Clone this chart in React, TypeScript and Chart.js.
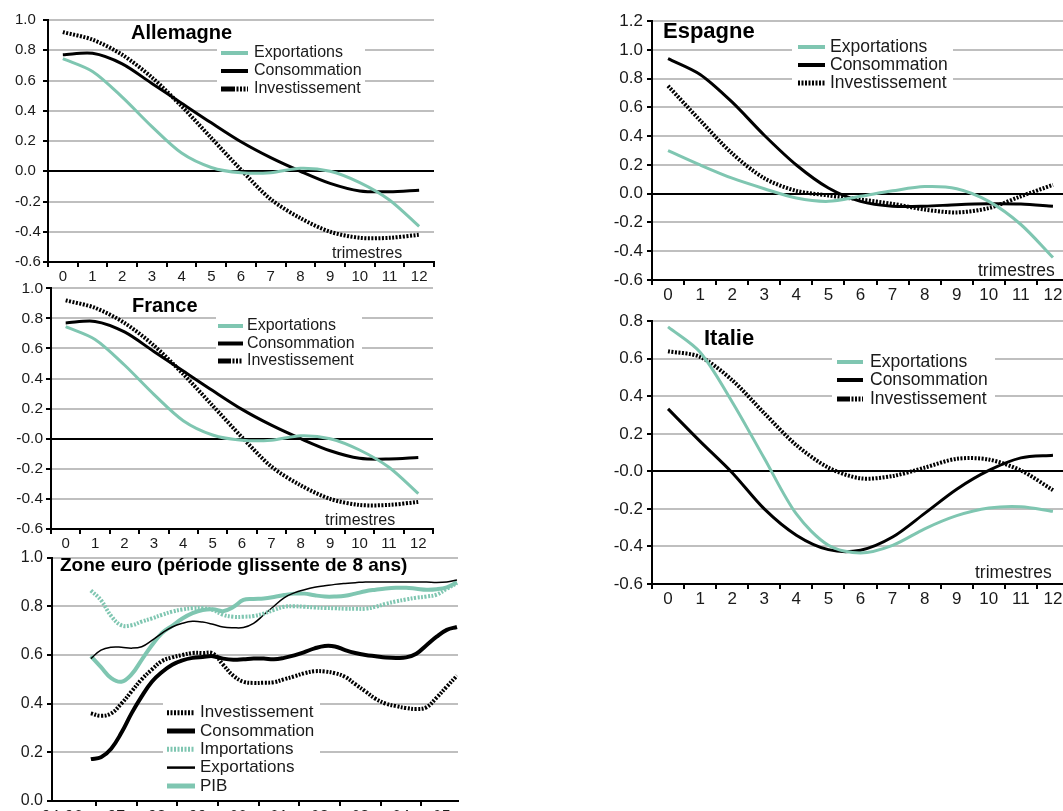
import React, { useEffect, useRef } from "react";
import { Chart, registerables } from "chart.js";

Chart.register(...registerables);

const FONT = "'Liberation Sans', Arial, Helvetica, sans-serif";
const TEAL = "#7fc6b1";
const GRID = "#bfbfbf";
const TEXT = "#1a1a1a";

// ---------- data ----------
const trimestres = ["0", "1", "2", "3", "4", "5", "6", "7", "8", "9", "10", "11", "12"];

const allemagneExportations = [0.745, 0.66, 0.49, 0.295, 0.12, 0.025, -0.01, -0.01, 0.02, 0.0, -0.075, -0.19, -0.365];
const allemagneConsommation = [0.77, 0.78, 0.71, 0.58, 0.45, 0.32, 0.195, 0.09, 0.0, -0.08, -0.13, -0.135, -0.125];
const allemagneInvestissement = [0.92, 0.87, 0.77, 0.62, 0.43, 0.22, 0.01, -0.185, -0.31, -0.4, -0.44, -0.44, -0.42];

const franceExportations = [0.745, 0.66, 0.49, 0.295, 0.12, 0.025, -0.01, -0.01, 0.02, 0.0, -0.075, -0.19, -0.365];
const franceConsommation = [0.77, 0.78, 0.71, 0.58, 0.45, 0.32, 0.195, 0.09, 0.0, -0.08, -0.13, -0.135, -0.125];
const franceInvestissement = [0.92, 0.87, 0.77, 0.62, 0.43, 0.22, 0.01, -0.185, -0.31, -0.4, -0.44, -0.44, -0.42];

const espagneExportations = [0.3, 0.2, 0.108, 0.035, -0.03, -0.053, -0.018, 0.02, 0.05, 0.035, -0.053, -0.214, -0.444];
const espagneConsommation = [0.94, 0.83, 0.637, 0.407, 0.2, 0.04, -0.053, -0.087, -0.087, -0.076, -0.07, -0.072, -0.087];
const espagneInvestissement = [0.75, 0.51, 0.28, 0.108, 0.02, -0.012, -0.04, -0.07, -0.11, -0.13, -0.1, -0.018, 0.062];

const italieExportations = [0.77, 0.635, 0.37, 0.07, -0.227, -0.394, -0.435, -0.394, -0.306, -0.236, -0.195, -0.188, -0.213];
const italieConsommation = [0.333, 0.16, -0.007, -0.2, -0.34, -0.417, -0.42, -0.35, -0.224, -0.095, 0.005, 0.072, 0.086];
const italieInvestissement = [0.64, 0.61, 0.486, 0.31, 0.14, 0.02, -0.037, -0.025, 0.02, 0.067, 0.063, 0.005, -0.1];

const zoneQuarters = [
  "1996T4",
  "1997T1", "1997T2", "1997T3", "1997T4",
  "1998T1", "1998T2", "1998T3", "1998T4",
  "1999T1", "1999T2", "1999T3", "1999T4",
  "2000T1", "2000T2", "2000T3", "2000T4",
  "2001T1", "2001T2", "2001T3", "2001T4",
  "2002T1", "2002T2", "2002T3", "2002T4",
  "2003T1", "2003T2", "2003T3", "2003T4",
  "2004T1", "2004T2", "2004T3", "2004T4",
  "2005T1", "2005T2", "2005T3", "2005T4",
];
const zoneInvestissement = [0.36, 0.35, 0.36, 0.4, 0.45, 0.5, 0.54, 0.575, 0.59, 0.6, 0.608, 0.608, 0.606, 0.56, 0.515, 0.49, 0.485, 0.486, 0.488, 0.5, 0.512, 0.525, 0.533, 0.532, 0.525, 0.51, 0.48, 0.45, 0.42, 0.4, 0.39, 0.382, 0.378, 0.385, 0.425, 0.47, 0.515];
const zoneConsommation = [0.172, 0.18, 0.215, 0.28, 0.36, 0.43, 0.49, 0.53, 0.56, 0.578, 0.588, 0.592, 0.595, 0.585, 0.58, 0.582, 0.585, 0.585, 0.582, 0.588, 0.598, 0.612, 0.627, 0.637, 0.635, 0.62, 0.608, 0.6, 0.595, 0.59, 0.588, 0.59, 0.605, 0.64, 0.675, 0.703, 0.715];
const zoneImportations = [0.865, 0.825, 0.76, 0.722, 0.722, 0.737, 0.75, 0.765, 0.778, 0.787, 0.792, 0.792, 0.785, 0.765, 0.757, 0.757, 0.76, 0.77, 0.785, 0.798, 0.8, 0.798, 0.795, 0.793, 0.792, 0.79, 0.79, 0.79, 0.798, 0.81, 0.82, 0.828, 0.835, 0.84, 0.848, 0.872, 0.895];
const zoneExportations = [0.585, 0.62, 0.632, 0.632, 0.628, 0.634, 0.66, 0.69, 0.715, 0.73, 0.738, 0.735, 0.726, 0.715, 0.712, 0.713, 0.73, 0.765, 0.8, 0.835, 0.855, 0.868, 0.878, 0.884, 0.89, 0.894, 0.897, 0.9, 0.9, 0.9, 0.9, 0.9, 0.9, 0.9, 0.898, 0.9, 0.908];
const zonePIB = [0.595, 0.55, 0.505, 0.49, 0.52, 0.58, 0.64, 0.69, 0.72, 0.75, 0.772, 0.785, 0.788, 0.78, 0.797, 0.826, 0.83, 0.832, 0.838, 0.846, 0.852, 0.852, 0.845, 0.84, 0.84, 0.843, 0.852, 0.862, 0.868, 0.873, 0.876, 0.876, 0.872, 0.868, 0.87, 0.878, 0.898];

const zoneYearBounds = [1997, 1998, 1999, 2000, 2001, 2002, 2003, 2004, 2005];
const zoneYearLabels = ["94-96", "97", "98", "99", "00", "01", "02", "03", "04", "05"];
const zoneLabelPos = [1996.17, 1997.5, 1998.5, 1999.5, 2000.5, 2001.5, 2002.5, 2003.5, 2004.5, 2005.5];

// ---------- helpers ----------
type SampleKind = "solid" | "dotted" | "dashdot";
type Series = { label: string; data: number[]; color: string; width: number; dash?: number[]; sample?: SampleKind };

const quarterPos = (q: string) => {
  const y = parseInt(q.slice(0, 4), 10);
  const t = parseInt(q.slice(5), 10);
  return y + (t - 0.5) / 4;
};

type Legend = {
  box: [number, number, number, number];
  sx: number;
  slen: number;
  tx: number;
  rows: number[];
  size: number;
};
type Label = { text: string; x: number; y: number; size: number; bold?: boolean };

type Panel = {
  id: string;
  cl: number;
  ct: number;
  yW: number;
  plotW: number;
  plotH: number;
  xH: number;
  padT: number;
  padR: number;
  yMin: number;
  yMax: number;
  yStep: number;
  yFont: number;
  yAlign: "near" | "far";
  yPad: number;
  zeroLabel: string;
  zeroLine: boolean;
  xFont: number;
  xPad: number;
  series: Series[];
  legend: Legend;
  labels: Label[];
  zone?: boolean;
};

function drawSample(ctx: CanvasRenderingContext2D, s: Series, x: number, y: number, len: number) {
  ctx.strokeStyle = s.color;
  ctx.lineWidth = s.width + 1;
  ctx.lineCap = "butt";
  const kind = s.sample || "solid";
  if (kind === "dashdot") {
    const solid = Math.round(len * 0.5);
    ctx.setLineDash([]);
    ctx.beginPath();
    ctx.moveTo(x, y);
    ctx.lineTo(x + solid, y);
    ctx.stroke();
    ctx.setLineDash(s.dash || [2, 1.5]);
    ctx.beginPath();
    ctx.moveTo(x + solid + 1.5, y);
    ctx.lineTo(x + len, y);
    ctx.stroke();
  } else {
    ctx.setLineDash(kind === "dotted" ? s.dash || [2, 1.5] : []);
    ctx.beginPath();
    ctx.moveTo(x, y);
    ctx.lineTo(x + len, y);
    ctx.stroke();
  }
  ctx.setLineDash([]);
}

function decorPlugin(p: Panel) {
  return {
    id: "decor_" + p.id,
    beforeDatasetsDraw(chart: any) {
      const ctx: CanvasRenderingContext2D = chart.ctx;
      ctx.save();
      const L = p.legend;
      ctx.fillStyle = "#ffffff";
      ctx.fillRect(L.box[0] - p.cl, L.box[1] - p.ct, L.box[2], L.box[3]);
      ctx.font = `${L.size}px ${FONT}`;
      ctx.textBaseline = "middle";
      ctx.textAlign = "left";
      p.series.forEach((s, i) => {
        const y = L.rows[i] - p.ct;
        drawSample(ctx, s, L.sx - p.cl, y, L.slen);
        ctx.fillStyle = TEXT;
        ctx.fillText(s.label, L.tx - p.cl, y);
      });
      p.labels.forEach((lb) => {
        ctx.font = `${lb.bold ? "bold " : ""}${lb.size}px ${FONT}`;
        ctx.fillStyle = lb.bold ? "#000" : TEXT;
        ctx.textBaseline = "middle";
        ctx.textAlign = "left";
        ctx.fillText(lb.text, lb.x - p.cl, lb.y - p.ct);
      });
      ctx.restore();
    },
  };
}

function buildConfig(p: Panel): any {
  const fmtY = (v: number) => (Math.abs(v) < 1e-9 ? p.zeroLabel : Number(v).toFixed(1));
  const datasets = p.series.map((s) => ({
    label: s.label,
    data: p.zone ? s.data.map((v, i) => ({ x: quarterPos(zoneQuarters[i]), y: v })) : s.data,
    borderColor: s.color,
    backgroundColor: s.color,
    borderWidth: s.width,
    borderDash: s.dash || [],
    borderCapStyle: "butt",
    pointRadius: 0,
    pointHoverRadius: 0,
    tension: p.zone ? 0.4 : 0.3,
    fill: false,
  }));

  const yScale = {
    type: "linear",
    min: p.yMin,
    max: p.yMax,
    ticks: {
      stepSize: p.yStep,
      font: { family: FONT, size: p.yFont },
      color: TEXT,
      padding: p.yPad,
      crossAlign: p.yAlign,
      callback: (v: any) => fmtY(v),
    },
    grid: {
      color: (c: any) => (p.zeroLine && c.tick && Math.abs(c.tick.value) < 1e-9 ? "#000" : GRID),
      lineWidth: 2,
      tickLength: 5,
      tickColor: "#000",
      drawTicks: true,
    },
    border: { color: "#000", width: 2 },
    afterFit: (s: any) => {
      s.width = p.yW;
    },
  };

  let xScale: any;
  if (p.zone) {
    const tickVals = [...zoneYearBounds, ...zoneLabelPos].sort((a, b) => a - b);
    xScale = {
      type: "linear",
      min: 1995.92,
      max: 2005.9,
      afterBuildTicks: (s: any) => {
        s.ticks = tickVals.map((v) => ({ value: v }));
      },
      ticks: {
        autoSkip: false,
        maxRotation: 0,
        font: { family: FONT, size: p.xFont },
        color: TEXT,
        padding: p.xPad,
        callback: (v: any) => {
          const idx = zoneLabelPos.indexOf(v);
          return idx >= 0 ? zoneYearLabels[idx] : "";
        },
      },
      grid: {
        drawOnChartArea: false,
        drawTicks: true,
        tickLength: 5,
        lineWidth: 2,
        color: (c: any) => (c.tick && zoneYearBounds.includes(c.tick.value) ? "#000" : "rgba(0,0,0,0)"),
        tickColor: (c: any) => (c.tick && zoneYearBounds.includes(c.tick.value) ? "#000" : "rgba(0,0,0,0)"),
      },
      border: { color: "#000", width: 2 },
      afterFit: (s: any) => {
        s.height = p.xH;
      },
    };
  } else {
    xScale = {
      type: "category",
      offset: true,
      ticks: {
        autoSkip: false,
        maxRotation: 0,
        font: { family: FONT, size: p.xFont },
        color: TEXT,
        padding: p.xPad,
      },
      grid: {
        offset: true,
        drawOnChartArea: false,
        drawTicks: true,
        tickLength: 5,
        lineWidth: 2,
        color: "#000",
        tickColor: "#000",
      },
      border: { color: "#000", width: 2 },
      afterFit: (s: any) => {
        s.height = p.xH;
      },
    };
  }

  return {
    type: "line",
    data: p.zone ? { datasets } : { labels: trimestres, datasets },
    options: {
      responsive: false,
      maintainAspectRatio: false,
      animation: false,
      devicePixelRatio: 1,
      events: [],
      layout: { padding: { top: p.padT, right: p.padR, left: 0, bottom: 0 } },
      plugins: {
        legend: { display: false },
        tooltip: { enabled: false },
        title: { display: false },
      },
      scales: { x: xScale, y: yScale },
    },
    plugins: [decorPlugin(p)],
  };
}

function ChartPanel({ p }: { p: Panel }) {
  const ref = useRef<HTMLCanvasElement>(null);
  const cw = p.yW + p.plotW + p.padR;
  const ch = p.padT + p.plotH + p.xH;
  useEffect(() => {
    const chart = new Chart(ref.current as HTMLCanvasElement, buildConfig(p));
    return () => chart.destroy();
  }, []);
  return (
    <canvas
      ref={ref}
      width={cw}
      height={ch}
      style={{ position: "absolute", left: p.cl, top: p.ct, width: cw, height: ch }}
    />
  );
}

const triSeries = (exp: number[], cons: number[], inv: number[], invSample: SampleKind): Series[] => [
  { label: "Exportations", data: exp, color: TEAL, width: 3 },
  { label: "Consommation", data: cons, color: "#000", width: 3 },
  { label: "Investissement", data: inv, color: "#000", width: 4, dash: [2, 1.5], sample: invSample },
];

const panels: Panel[] = [
  {
    id: "allemagne",
    cl: 15, ct: 8, yW: 33, plotW: 386, plotH: 242, xH: 26, padT: 12, padR: 4,
    yMin: -0.6, yMax: 1.0, yStep: 0.2, yFont: 15, yAlign: "far", yPad: 3,
    zeroLabel: "0.0", zeroLine: true, xFont: 15, xPad: 1,
    series: triSeries(allemagneExportations, allemagneConsommation, allemagneInvestissement, "dashdot"),
    legend: { box: [217, 43, 148, 54], sx: 221, slen: 27, tx: 254, rows: [53, 71, 89], size: 16 },
    labels: [
      { text: "Allemagne", x: 131, y: 33, size: 20, bold: true },
      { text: "trimestres", x: 332, y: 254, size: 16 },
    ],
  },
  {
    id: "france",
    cl: 0, ct: 276, yW: 51, plotW: 382, plotH: 241, xH: 26, padT: 12, padR: 4,
    yMin: -0.6, yMax: 1.0, yStep: 0.2, yFont: 15.5, yAlign: "near", yPad: 3,
    zeroLabel: "-0.0", zeroLine: true, xFont: 15, xPad: 1,
    series: triSeries(franceExportations, franceConsommation, franceInvestissement, "dashdot"),
    legend: { box: [216, 315, 146, 55], sx: 218, slen: 25, tx: 247, rows: [326, 343.5, 361], size: 16 },
    labels: [
      { text: "France", x: 132, y: 306, size: 20, bold: true },
      { text: "trimestres", x: 325, y: 521, size: 16 },
    ],
  },
  {
    id: "zone",
    cl: 0, ct: 544, yW: 52, plotW: 406, plotH: 245, xH: 30, padT: 12, padR: 4,
    yMin: 0, yMax: 1.0, yStep: 0.2, yFont: 16, yAlign: "near", yPad: 4,
    zeroLabel: "0.0", zeroLine: false, xFont: 16, xPad: 2,
    zone: true,
    series: [
      { label: "Investissement", data: zoneInvestissement, color: "#000", width: 4, dash: [2, 1.5], sample: "dotted" },
      { label: "Consommation", data: zoneConsommation, color: "#000", width: 4 },
      { label: "Importations", data: zoneImportations, color: TEAL, width: 4, dash: [2, 1.5], sample: "dotted" },
      { label: "Exportations", data: zoneExportations, color: "#000", width: 1.5 },
      { label: "PIB", data: zonePIB, color: TEAL, width: 4 },
    ],
    legend: { box: [163, 700, 157, 97], sx: 167, slen: 28, tx: 200, rows: [712.7, 731, 749.3, 767.6, 786], size: 17 },
    labels: [{ text: "Zone euro (période glissente de 8 ans)", x: 60, y: 566, size: 19, bold: true }],
  },
  {
    id: "espagne",
    cl: 600, ct: 7, yW: 52, plotW: 417, plotH: 261, xH: 26, padT: 12, padR: 4,
    yMin: -0.6, yMax: 1.2, yStep: 0.2, yFont: 17, yAlign: "near", yPad: 4,
    zeroLabel: "0.0", zeroLine: true, xFont: 17, xPad: 0,
    series: triSeries(espagneExportations, espagneConsommation, espagneInvestissement, "dotted"),
    legend: { box: [792, 37, 161, 55], sx: 798, slen: 27, tx: 830, rows: [47, 65, 83], size: 17.5 },
    labels: [
      { text: "Espagne", x: 663, y: 32, size: 22, bold: true },
      { text: "trimestres", x: 978, y: 271, size: 17.5 },
    ],
  },
  {
    id: "italie",
    cl: 600, ct: 307, yW: 52, plotW: 417, plotH: 265, xH: 26, padT: 12, padR: 4,
    yMin: -0.6, yMax: 0.8, yStep: 0.2, yFont: 17, yAlign: "near", yPad: 4,
    zeroLabel: "-0.0", zeroLine: true, xFont: 17, xPad: 0,
    series: triSeries(italieExportations, italieConsommation, italieInvestissement, "dashdot"),
    legend: { box: [832, 350, 163, 60], sx: 837, slen: 26, tx: 870, rows: [362, 380, 399], size: 17.5 },
    labels: [
      { text: "Italie", x: 704, y: 339, size: 22, bold: true },
      { text: "trimestres", x: 975, y: 573, size: 17.5 },
    ],
  },
];

export default function App() {
  return (
    <div
      style={{
        position: "fixed",
        left: 0,
        top: 0,
        width: 1063,
        height: 811,
        overflow: "hidden",
        background: "#ffffff",
      }}
    >
      {panels.map((p) => (
        <ChartPanel key={p.id} p={p} />
      ))}
    </div>
  );
}
